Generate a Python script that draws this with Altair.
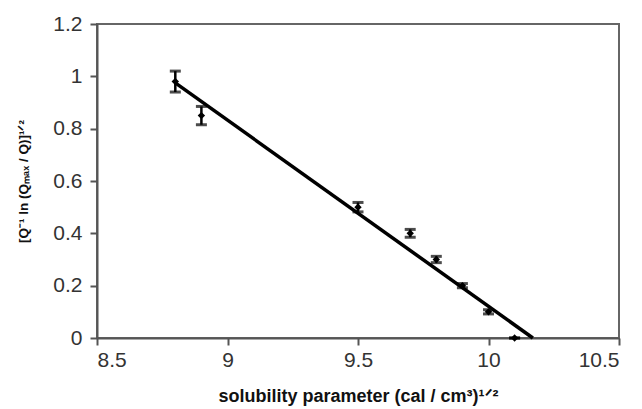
import altair as alt
import pandas as pd

# data
sol_param = [8.8, 8.9, 9.5, 9.7, 9.8, 9.9, 10.0, 10.1]
q_value = [0.98, 0.85, 0.50, 0.40, 0.30, 0.20, 0.10, 0.00]
q_err = [0.04, 0.035, 0.018, 0.015, 0.012, 0.008, 0.008, 0.0]

fit_x = [8.8, 10.17]
fit_y = [0.975, 0.0]

x_ticks = [8.5, 9.0, 9.5, 10.0, 10.5]
y_ticks = [0, 0.2, 0.4, 0.6, 0.8, 1.0, 1.2]

pts = pd.DataFrame({"x": sol_param, "y": q_value, "e": q_err})
pts["lo"] = pts["y"] - pts["e"]
pts["hi"] = pts["y"] + pts["e"]
fit = pd.DataFrame({"x": fit_x, "y": fit_y})

FONT = "Liberation Sans"

xscale = alt.Scale(domain=[8.5, 10.5], nice=False, zero=False)
yscale = alt.Scale(domain=[0, 1.2], nice=False, zero=True)

xaxis = alt.Axis(
    values=x_ticks, format="~g", grid=False,
    title="solubility parameter (cal / cm³)¹ᐟ²",
    titleFont=FONT, titleFontSize=18, titleFontWeight="bold", titleColor="#111",
    titlePadding=17,
    labelFont=FONT, labelFontSize=21, labelColor="#333", labelPadding=4,
    tickSize=7, tickColor="#555", tickWidth=2,
    domainColor="#555", domainWidth=2,
)
yaxis = alt.Axis(
    values=y_ticks, format="~g", grid=False,
    title="[Q⁻¹ ln (Qₘₐₓ / Q)]¹ᐟ²",
    titleFont=FONT, titleFontSize=13.5, titleFontWeight="bold", titleColor="#111",
    titlePadding=22,
    labelFont=FONT, labelFontSize=21, labelColor="#333", labelPadding=8,
    tickSize=7, tickColor="#555", tickWidth=2,
    domainColor="#555", domainWidth=2,
)

base = alt.Chart(pts)

err_rule = base.mark_rule(color="black", strokeWidth=2.5).encode(
    x=alt.X("x:Q", scale=xscale, axis=xaxis),
    y=alt.Y("lo:Q", scale=yscale, axis=yaxis),
    y2="hi:Q",
)
cap_lo = base.mark_tick(color="black", orient="horizontal", size=11, thickness=3).encode(
    x=alt.X("x:Q", scale=xscale), y=alt.Y("lo:Q", scale=yscale)
)
cap_hi = base.mark_tick(color="black", orient="horizontal", size=11, thickness=3).encode(
    x=alt.X("x:Q", scale=xscale), y=alt.Y("hi:Q", scale=yscale)
)
dots = base.mark_point(shape="diamond", filled=True, color="black", size=55, opacity=1).encode(
    x=alt.X("x:Q", scale=xscale), y=alt.Y("y:Q", scale=yscale)
)
line = alt.Chart(fit).mark_line(color="black", strokeWidth=3.5).encode(
    x=alt.X("x:Q", scale=xscale), y=alt.Y("y:Q", scale=yscale)
)

chart = alt.layer(line, err_rule, cap_lo, cap_hi, dots).properties(
    width=522, height=314,
    autosize="none",
    padding={"left": 97, "top": 24, "right": 23, "bottom": 71},
    background="white",
).configure_view(stroke="#666", strokeWidth=2)

chart.save("out.html", embed_options={"renderer": "svg", "actions": False})
